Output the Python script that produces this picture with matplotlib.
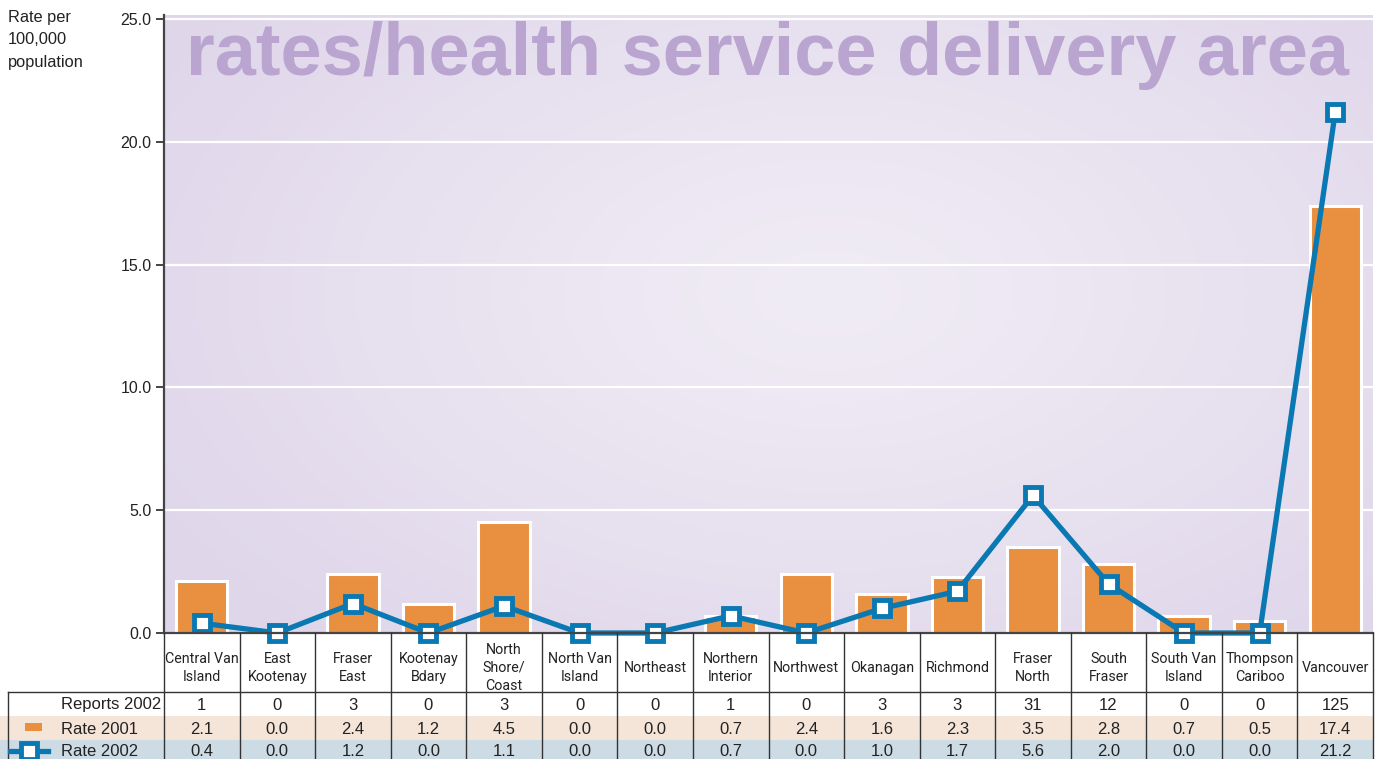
import numpy as np
import matplotlib
matplotlib.use("Agg")
import matplotlib.pyplot as plt
from matplotlib import font_manager as fm
from matplotlib.patches import Rectangle
from matplotlib.lines import Line2D
from matplotlib.transforms import blended_transform_factory

# ---------------- data ----------------
categories = ["Central Van\nIsland", "East\nKootenay", "Fraser\nEast", "Kootenay\nBdary",
              "North\nShore/\nCoast", "North Van\nIsland", "Northeast", "Northern\nInterior",
              "Northwest", "Okanagan", "Richmond", "Fraser\nNorth", "South\nFraser",
              "South Van\nIsland", "Thompson\nCariboo", "Vancouver"]
reports_2002 = [1, 0, 3, 0, 3, 0, 0, 1, 0, 3, 3, 31, 12, 0, 0, 125]
rate_2001 = [2.1, 0.0, 2.4, 1.2, 4.5, 0.0, 0.0, 0.7, 2.4, 1.6, 2.3, 3.5, 2.8, 0.7, 0.5, 17.4]
rate_2002 = [0.4, 0.0, 1.2, 0.0, 1.1, 0.0, 0.0, 0.7, 0.0, 1.0, 1.7, 5.6, 2.0, 0.0, 0.0, 21.2]
row_labels = ["Reports 2002", "Rate 2001", "Rate 2002"]
yticks = [0, 5, 10, 15, 20, 25]
title_text = "rates/health service delivery area"
ylabel_text = "Rate per\n100,000\npopulation"

# ---------------- fonts ----------------
def has_font(name):
    try:
        fm.findfont(fm.FontProperties(family=name), fallback_to_default=False)
        return True
    except Exception:
        return False

BASE = "Liberation Sans" if has_font("Liberation Sans") else "DejaVu Sans"
NARROW = "Roboto" if has_font("Roboto") else BASE
plt.rcParams["font.family"] = [BASE, "DejaVu Sans"]

def dejavu_condensed_available():
    try:
        p = fm.findfont(fm.FontProperties(family="DejaVu Sans", weight="bold",
                                          stretch="condensed"), fallback_to_default=False)
        return "Condensed" in p
    except Exception:
        return False

# ---------------- colours ----------------
BAR_C = "#E8903F"
LINE_C = "#0A78B2"
TITLE_C = "#B9A5D0"
TEXT_C = "#222222"
TAN = "#F5E5D9"
BLUEGRAY = "#CDDBE5"
EDGE = "#333333"

W, H = 1381, 759
fig = plt.figure(figsize=(W / 100, H / 100), dpi=100)
fig.patch.set_facecolor("white")

def fy(py):
    return 1 - py / H

def fx(px):
    return px / W

ax_left, ax_right, ax_top, ax_bot = 164, 1373, 15, 633
ax = fig.add_axes([fx(ax_left), fy(ax_bot), (ax_right - ax_left) / W, (ax_bot - ax_top) / H])
n = len(categories)
x = np.arange(n)
ax.set_xlim(-0.5, n - 0.5)
ax.set_ylim(0, 25 * (ax_bot - ax_top) / (ax_bot - 19))

# background gradient
gx, gy = np.meshgrid(np.linspace(0, 1, 300), np.linspace(0, 1, 200))
d = np.sqrt(((gx - 0.55) / 0.65) ** 2 + ((gy - 0.55) / 0.75) ** 2)
t = np.clip(d, 0, 1) ** 1.2
light = np.array([0xF0, 0xEC, 0xF5]) / 255
dark = np.array([0xDF, 0xD6, 0xEA]) / 255
img = light[None, None, :] * (1 - t[..., None]) + dark[None, None, :] * t[..., None]
ax.imshow(img, extent=[0, 1, 0, 1], transform=ax.transAxes, origin="lower",
          aspect="auto", zorder=0, interpolation="bilinear")

# grid
for yv in yticks[1:]:
    ax.axhline(yv, color="white", lw=1.6, zorder=1)

# ---- title: pick font/tracking so that width and x-height match the reference ----
REF_FS = 50.0
target_w = 1164.0
target_xh = 40.0

def measure(s, kw):
    tt = fig.text(0, 0, s, fontsize=REF_FS, fontweight="bold", **kw)
    fig.canvas.draw()
    w = tt.get_window_extent().width
    tt.remove()
    return w

options = []
font_opts = [({"family": [BASE, "DejaVu Sans"]}, 0.519)]
if dejavu_condensed_available():
    font_opts.append(({"family": ["DejaVu Sans"], "fontstretch": "condensed"}, 0.547))
for kw, xh_ratio in font_opts:
    for sp, penalty in [("", 5.0), ("\u200a", 0.0)]:
        if sp and measure("a" + sp + "a", kw) - measure("aa", kw) < 0.5:
            continue
        s = sp.join(list(title_text)) if sp else title_text
        fs = REF_FS * target_w / measure(s, kw)
        xh = fs * 100 / 72 * xh_ratio
        options.append((abs(xh - target_xh) + penalty, s, fs, kw))
options.sort(key=lambda o: o[0])
_, title_str, title_fs, title_kw = options[0]
ax.text((186 - ax_left) / (ax_right - ax_left), (ax_bot - 75) / (ax_bot - ax_top), title_str,
        transform=ax.transAxes, fontsize=title_fs, fontweight="bold",
        color=TITLE_C, ha="left", va="baseline", zorder=1, **title_kw)

# bars & line
ax.bar(x, rate_2001, width=0.68, color=BAR_C, edgecolor="white", linewidth=2.2, zorder=2)
ax.plot(x, rate_2002, color=LINE_C, lw=3.8, marker="s", ms=12, mfc="white",
        mec=LINE_C, mew=3.5, zorder=3, clip_on=False, solid_joinstyle="miter")

# axes styling
for s in ["top", "right"]:
    ax.spines[s].set_visible(False)
ax.spines["left"].set_color("#444444")
ax.spines["left"].set_linewidth(1.6)
ax.spines["bottom"].set_color("#444444")
ax.spines["bottom"].set_linewidth(1.6)
ax.spines["bottom"].set_zorder(4)
ax.set_xticks([])
ax.set_yticks(yticks)
ax.set_yticklabels([f"{v:.1f}" for v in yticks])
ax.tick_params(axis="y", length=6, width=1.4, color="#444444", labelsize=11.5,
               labelcolor=TEXT_C, pad=3)

# y label
fig.text(fx(8), fy(10), ylabel_text, ha="left", va="top", fontsize=11.8,
         linespacing=1.62, color=TEXT_C)

# ---------------- table ----------------
bt = blended_transform_factory(ax.transData, fig.transFigure)
row_bounds = [(692, 716), (716, 740), (740, 764)]
row_fill = [None, TAN, BLUEGRAY]
right_fig = ax.get_position().x1
for (top, bot), fc in zip(row_bounds, row_fill):
    if fc:
        fig.patches.append(Rectangle((0, fy(bot)), right_fig, fy(top) - fy(bot),
                                     transform=fig.transFigure, facecolor=fc,
                                     edgecolor="none", zorder=0))

# vertical column lines
for i in range(n + 1):
    xb = -0.5 + i
    fig.lines.append(Line2D([xb, xb], [fy(633), fy(759)], transform=bt,
                            color=EDGE, lw=1.0, zorder=2))
# row-label column left border
fig.lines.append(Line2D([fx(8), fx(8)], [fy(692), fy(759)], transform=fig.transFigure,
                        color=EDGE, lw=1.0, zorder=2))
# header bottom line
fig.lines.append(Line2D([fx(8), right_fig], [fy(692), fy(692)], transform=fig.transFigure,
                        color=EDGE, lw=1.0, zorder=2))

# category labels
for xi, lab in zip(x, categories):
    fig.text(xi, fy(668), lab, transform=bt, ha="center", va="center",
             fontsize=10.3, linespacing=1.36, color=TEXT_C, family=[NARROW, BASE])

row_vals = [[str(v) for v in reports_2002],
            [f"{v:.1f}" for v in rate_2001],
            [f"{v:.1f}" for v in rate_2002]]
row_centers = [705, 729, 752]
for lab, vals, yc in zip(row_labels, row_vals, row_centers):
    fig.text(fx(61), fy(yc), lab, ha="left", va="center", fontsize=12, color=TEXT_C)
    for xi, v in zip(x, vals):
        fig.text(xi, fy(yc), v, transform=bt, ha="center", va="center",
                 fontsize=12, color=TEXT_C)

# legend glyphs in row header
fig.patches.append(Rectangle((fx(25), fy(731)), fx(17), fy(723) - fy(731),
                             transform=fig.transFigure, facecolor=BAR_C,
                             edgecolor="none", zorder=3))
fig.lines.append(Line2D([fx(10), fx(48)], [fy(751), fy(751)], transform=fig.transFigure,
                        color=LINE_C, lw=3.8, zorder=3))
fig.lines.append(Line2D([fx(29)], [fy(751)], transform=fig.transFigure, color=LINE_C,
                        marker="s", ms=12, mfc="white", mec=LINE_C, mew=3.5, zorder=4))

fig.savefig("out.png", dpi=100)
